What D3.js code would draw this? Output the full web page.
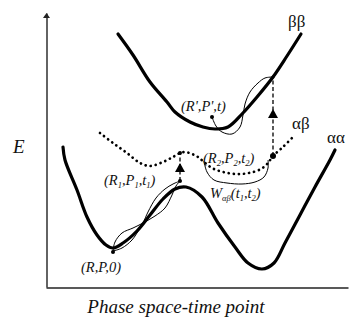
<!DOCTYPE html>
<html>
<head>
<meta charset="utf-8">
<script src="https://cdn.jsdelivr.net/npm/d3@7"></script>
<style>
  body { margin: 0; background: #fff; }
  text { font-family: "Liberation Serif", "Times New Roman", serif; fill: #111; }
</style>
</head>
<body>
<div id="chart"></div>
<script>
// curves (x = phase space-time point, E = energy, arbitrary units)
const betaBeta = [[72,253],[87,232],[104,205],[121,185],[129,175],[144,165],[157,160],[169,158],[182,160],[196,173],[211,190],[227,210],[241,231],[255,253]];
const alphaAlpha = [[17,140],[19,127],[31,97],[41,70],[51,52],[60,42],[67,39],[77,44],[91,56],[104,72],[117,88],[129,98],[140,100],[156,90],[172,64],[189,40],[202,24],[216,18],[228,24],[239,44],[254,72],[269,100],[284,127],[289,137]];
const alphaBeta = [[54,154],[67,144],[81,134],[94,124],[104,121],[117,125],[127,130],[134,134],[139,135],[146,133],[152,130],[158,125],[166,119],[177,115],[190,113],[203,114],[215,118],[222,124],[227,131],[237,140],[247,150]];

// trajectory bundles (thin lines)
const bundleA = [[67,36],[69,45],[76,54],[87,59],[97,64],[109,71],[119,79],[126,92],[130,101],[134,106]];
const bundleB = [[67,36],[76,39],[86,47],[94,59],[97,64],[102,75],[110,89],[119,98],[127,103],[134,106]];
const bundleC = [[166,170],[170,161],[176,155],[186,153],[194,160],[197,172],[199,183],[204,195],[212,204],[219,209],[227,210]];
const wArc = [[158,126],[161,115],[168,107],[181,104],[196,103],[209,105],[218,110],[222,119],[222,127]];

// hops (dashed, arrow pointing up) : x, from E, to E, arrow tip E
const hops = [[134,106,134,124],[227,131,210,178]];
// marked points : x, E, radius
const points = [[67,35,2],[134,106,2],[134,134,2],[227,131,3],[227,210,1.5],[166,170,2]];

const curveLabels = [["ββ",242,260],["αβ",246,158],["αα",281,144]];

const width = 349, height = 322;
const svg = d3.select("#chart").append("svg")
  .attr("width", width).attr("height", height);

const x = d3.scaleLinear().domain([0, 302]).range([46, 348]);
const y = d3.scaleLinear().domain([0, 274]).range([287, 13]);

// Axes (no ticks)
svg.append("g")
  .attr("transform", "translate(0,287.5)")
  .call(d3.axisBottom(x).tickValues([]).tickSizeOuter(0))
  .select(".domain").attr("stroke", "#222").attr("stroke-width", 1.4);
svg.append("g")
  .attr("transform", "translate(46.5,0)")
  .call(d3.axisLeft(y).tickValues([]).tickSizeOuter(0))
  .select(".domain").attr("stroke", "#222").attr("stroke-width", 1.4);
svg.append("path")
  .attr("d", `M${x(0)},${y(274)}l-3.5,5h7z`)
  .attr("transform", "translate(0.5,0)")
  .attr("fill", "#222");

const line = d3.line()
  .x((d) => x(d[0]))
  .y((d) => y(d[1]))
  .curve(d3.curveCatmullRom.alpha(0.5));

// Thick surfaces
[betaBeta, alphaAlpha].forEach((c) => {
  svg.append("path").datum(c)
    .attr("d", line)
    .attr("fill", "none")
    .attr("stroke", "#000")
    .attr("stroke-width", 3.2)
    .attr("stroke-linecap", "round");
});

// Dotted mean surface
svg.append("path").datum(alphaBeta)
  .attr("d", line)
  .attr("fill", "none")
  .attr("stroke", "#000")
  .attr("stroke-width", 2.7)
  .attr("stroke-linecap", "round")
  .attr("stroke-dasharray", "0.1,5");

// Thin trajectories
[bundleA, bundleB, bundleC, wArc].forEach((c) => {
  svg.append("path").datum(c)
    .attr("d", line)
    .attr("fill", "none")
    .attr("stroke", "#000")
    .attr("stroke-width", 1);
});

// Hops
hops.forEach((h) => {
  svg.append("line")
    .attr("x1", x(h[0])).attr("y1", y(h[1]))
    .attr("x2", x(h[0])).attr("y2", y(h[2]))
    .attr("stroke", "#000")
    .attr("stroke-width", 1.3)
    .attr("stroke-dasharray", "4,2.5");
  svg.append("path")
    .attr("d", `M${x(h[0])},${y(h[3])}l-5,9h10z`)
    .attr("fill", "#000");
});

svg.selectAll("circle.pt")
  .data(points)
  .enter()
  .append("circle")
  .attr("class", "pt")
  .attr("cx", (d) => x(d[0]))
  .attr("cy", (d) => y(d[1]))
  .attr("r", (d) => d[2])
  .attr("fill", "#000");

// Labels
svg.append("text")
  .attr("x", 13).attr("y", 153)
  .attr("font-size", 19).attr("font-style", "italic")
  .text("E");

svg.append("text")
  .attr("x", 176).attr("y", 313)
  .attr("text-anchor", "middle")
  .attr("font-size", 19).attr("font-style", "italic")
  .text("Phase space-time point");

svg.selectAll("text.curve")
  .data(curveLabels)
  .enter()
  .append("text")
  .attr("class", "curve")
  .attr("x", (d) => x(d[1]))
  .attr("y", (d) => y(d[2]))
  .attr("font-size", 17)
  .text((d) => d[0]);

function pointLabel(px, py, parts) {
  const t = svg.append("text")
    .attr("x", x(px)).attr("y", y(py))
    .attr("font-size", 14.5)
    .attr("font-style", "italic");
  parts.forEach((p) => {
    const s = t.append("tspan").text(p[0]);
    if (p[1] === "sub") s.attr("font-size", 8.5).attr("dy", 3);
    if (p[1] === "up") s.attr("dy", -3);
  });
}

pointLabel(35, 15, [["(R,P,0)"]]);
pointLabel(135, 176, [["(R',P',t)"]]);
pointLabel(58, 102, [["(R"], ["1", "sub"], [",P", "up"], ["1", "sub"], [",t", "up"], ["1", "sub"], [")", "up"]]);
pointLabel(157, 124, [["(R"], ["2", "sub"], [",P", "up"], ["2", "sub"], [",t", "up"], ["2", "sub"], [")", "up"]]);
pointLabel(164, 89, [["W"], ["αβ", "sub"], ["(t", "up"], ["1", "sub"], [",t", "up"], ["2", "sub"], [")", "up"]]);
</script>
</body>
</html>
